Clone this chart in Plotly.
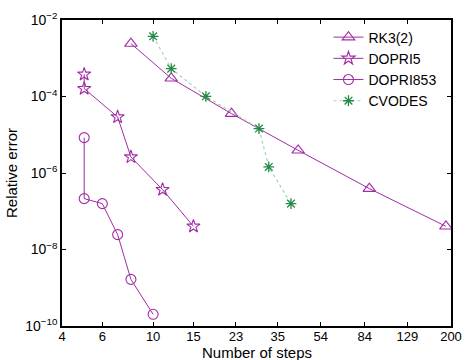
import plotly.graph_objects as go

# Step counts and relative errors for each integrator
rk32_steps = [8, 12, 22, 43, 88, 190]
rk32_err = [2.42e-3, 2.99e-4, 3.57e-5, 3.92e-6, 3.91e-7, 4.04e-8]

dopri5_steps = [5, 5, 7, 8, 11, 15]
dopri5_err = [3.80e-4, 1.61e-4, 2.91e-5, 2.62e-6, 3.68e-7, 4.04e-8]

dopri853_steps = [5, 5, 6, 7, 8, 10]
dopri853_err = [8.42e-6, 2.14e-7, 1.58e-7, 2.45e-8, 1.66e-9, 2.02e-10]

cvodes_steps = [10, 12, 17, 29, 32, 40]
cvodes_err = [3.75e-3, 5.36e-4, 1.01e-4, 1.45e-5, 1.44e-6, 1.58e-7]

x_ticks = [4, 6, 10, 15, 23, 35, 54, 84, 129, 200]
y_exponents = [-10, -8, -6, -4, -2]

purple = "#a22ca6"
green = "#238b45"
green_line = "#a3d6b0"

fig = go.Figure()
fig.add_trace(go.Scatter(
    x=rk32_steps, y=rk32_err, name="RK3(2)", mode="lines+markers",
    line=dict(color=purple, width=1),
    marker=dict(symbol="triangle-up-open", size=11, color=purple, line=dict(width=1.1)),
))
fig.add_trace(go.Scatter(
    x=dopri5_steps, y=dopri5_err, name="DOPRI5", mode="lines+markers",
    line=dict(color=purple, width=1),
    marker=dict(symbol="star-open", size=10, color=purple, line=dict(width=1.1)),
))
fig.add_trace(go.Scatter(
    x=dopri853_steps, y=dopri853_err, name="DOPRI853", mode="lines+markers",
    line=dict(color=purple, width=1),
    marker=dict(symbol="circle-open", size=10, color=purple, line=dict(width=1.1)),
))
fig.add_trace(go.Scatter(
    x=cvodes_steps, y=cvodes_err, name="CVODES", mode="lines+markers",
    line=dict(color=green_line, width=1.2, dash="dot"),
    marker=dict(symbol="asterisk-open", size=9, color=green, line=dict(width=1.3, color=green)),
))

font_family = "Liberation Sans, Arial, sans-serif"

fig.update_layout(
    width=465, height=360,
    margin=dict(l=62.4, r=13.6, t=19.5, b=34.4),
    paper_bgcolor="white", plot_bgcolor="white",
    font=dict(family=font_family, size=13, color="black"),
    showlegend=True,
    legend=dict(
        x=0.685, y=0.995, xanchor="left", yanchor="top",
        bgcolor="rgba(0,0,0,0)", borderwidth=0,
        font=dict(size=14), tracegroupgap=0, itemwidth=30,
    ),
    xaxis=dict(
        type="log", range=[0.60206, 2.30103], automargin=False,
        tickvals=x_ticks, ticktext=[str(v) for v in x_ticks],
        ticks="inside", ticklen=4, tickwidth=1, tickcolor="black",
        ticklabelstandoff=-2,
        showline=True, linecolor="black", linewidth=1.5, mirror="allticks",
        showgrid=False, zeroline=False,
    ),
    yaxis=dict(
        type="log", range=[-10, -2], automargin=False,
        tickvals=[10.0 ** e for e in y_exponents],
        ticktext=["10<sup>\u2212%d</sup>" % (-e) for e in y_exponents],
        ticks="inside", ticklen=4, tickwidth=1, tickcolor="black",
        showline=True, linecolor="black", linewidth=1.5, mirror="allticks",
        showgrid=False, zeroline=False,
        tickfont=dict(size=14),
        title=dict(text="Relative error", font=dict(size=15), standoff=4),
    ),
)

# x-axis title placed just below the tick labels
fig.add_annotation(
    text="Number of steps", xref="paper", yref="paper",
    x=0.5, y=-0.088, xanchor="center", yanchor="middle",
    showarrow=False, font=dict(size=15, family=font_family, color="black"),
)

fig.write_html("out.html")
